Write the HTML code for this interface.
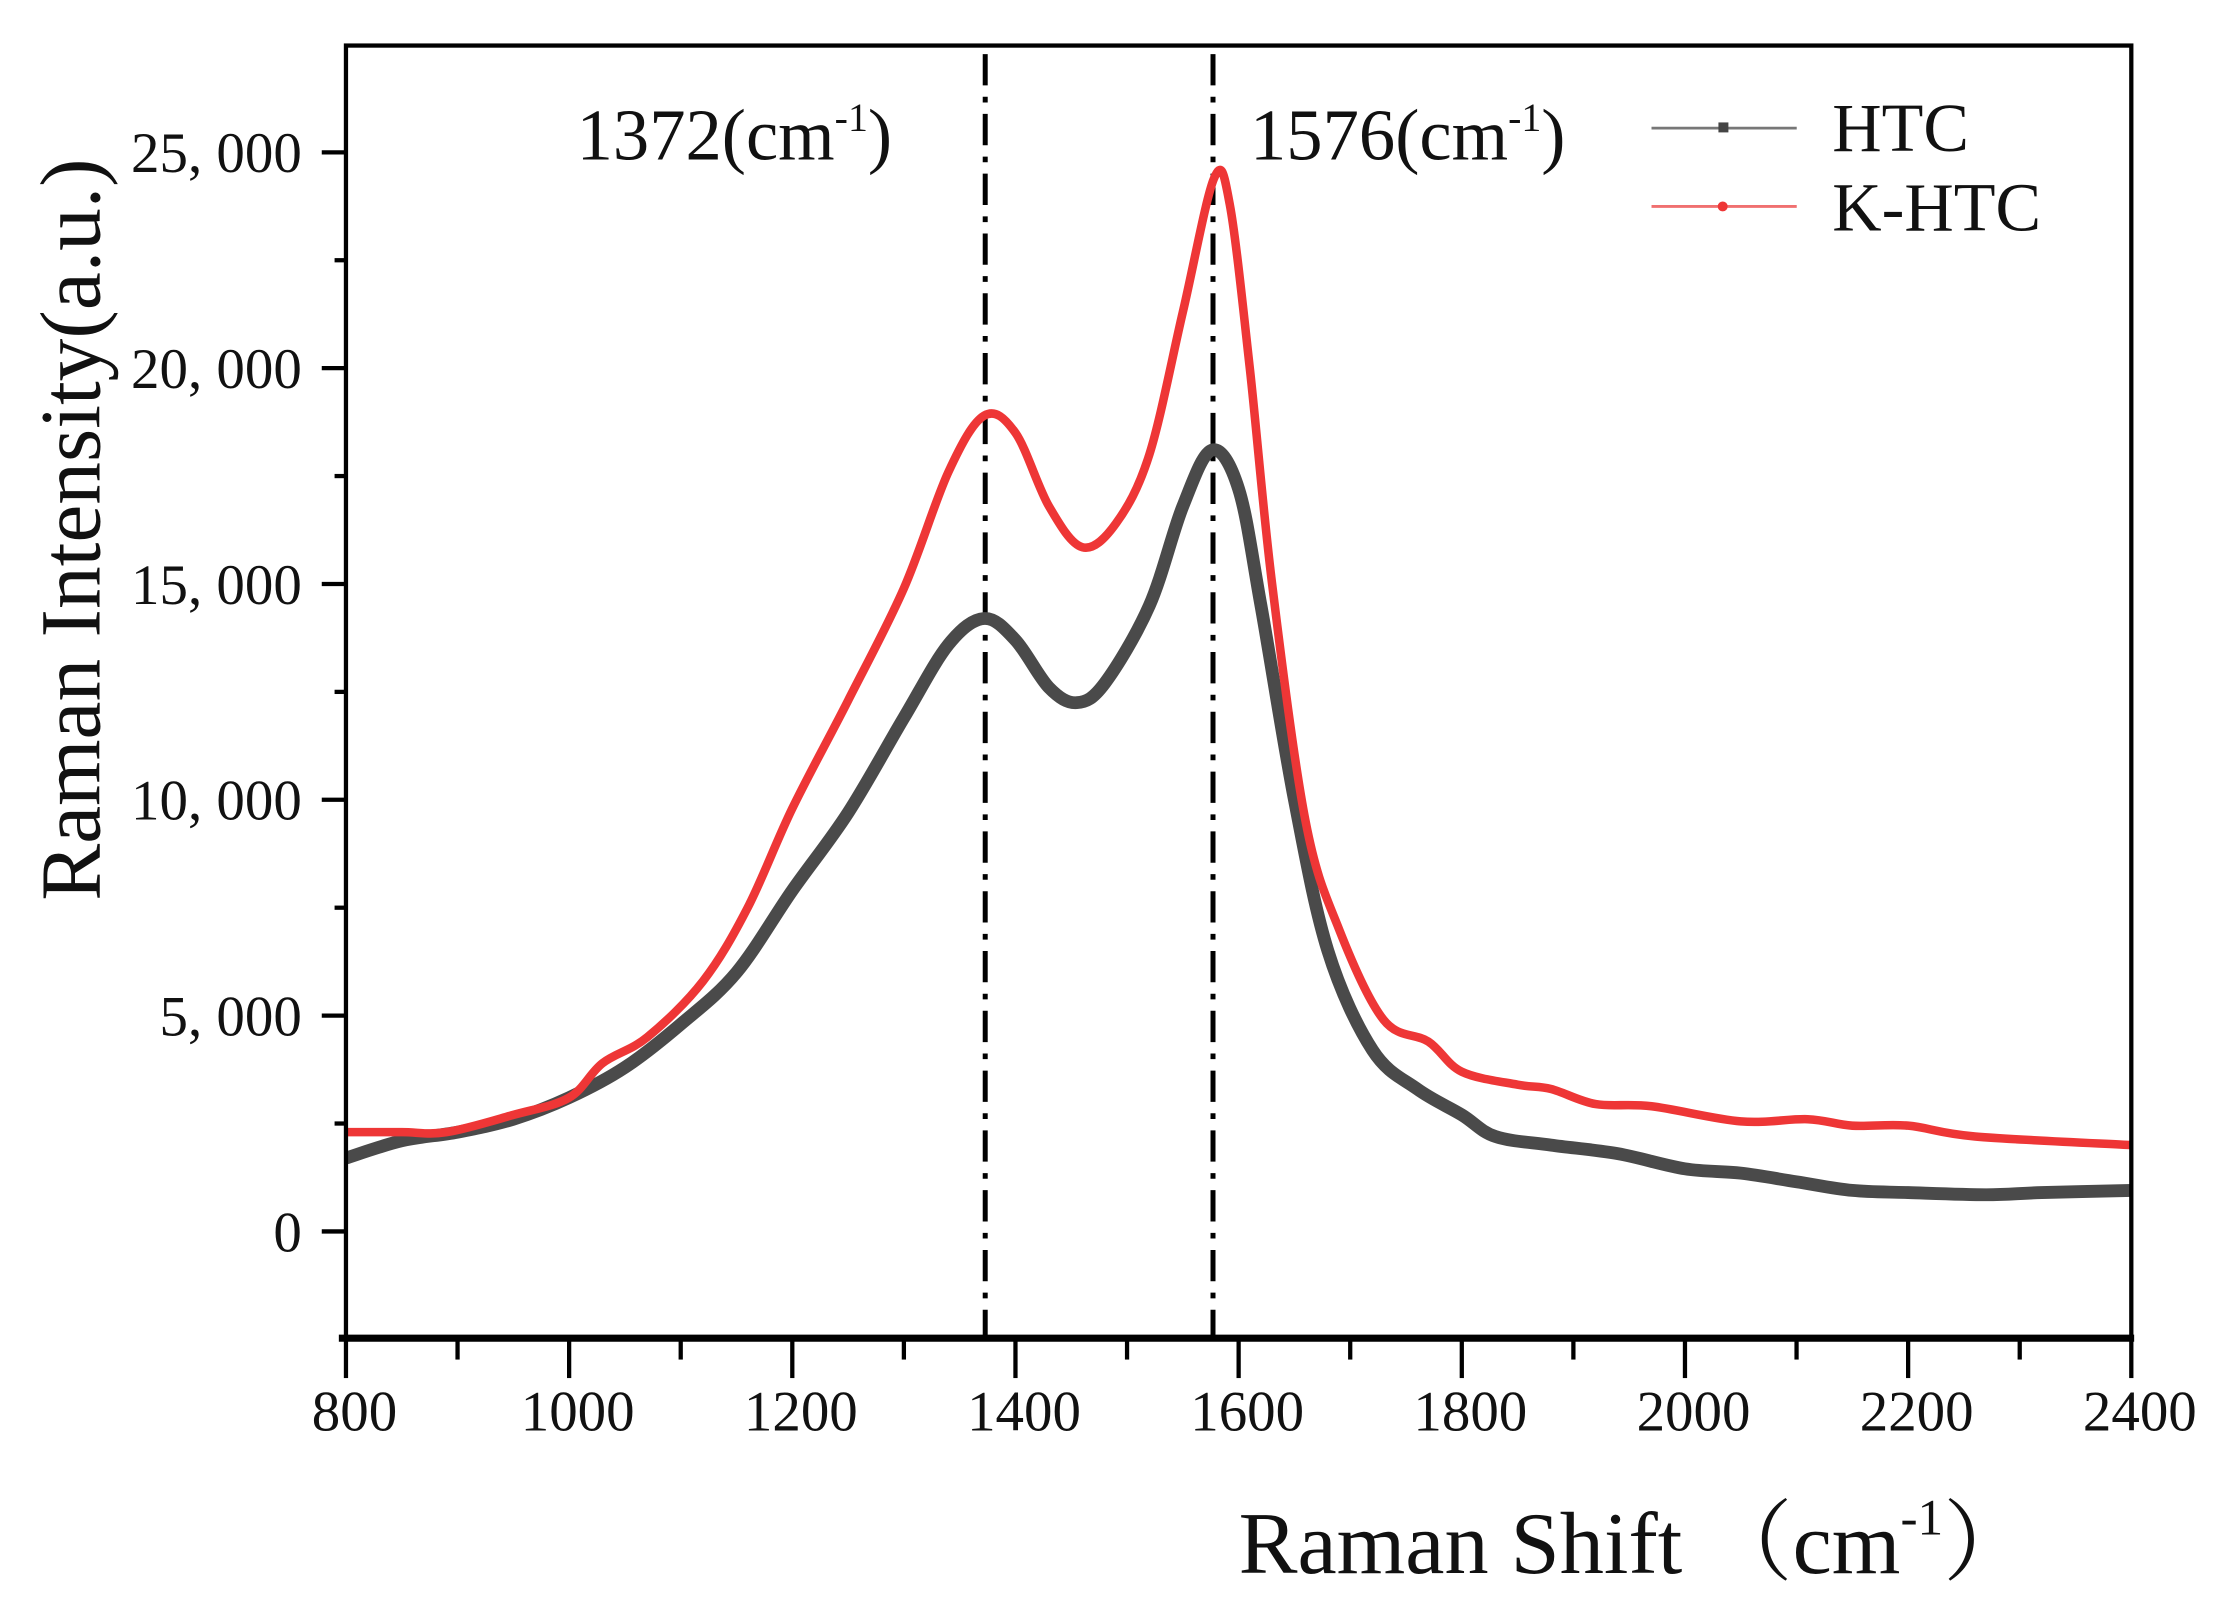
<!DOCTYPE html>
<html><head><meta charset="utf-8"><style>
html,body{margin:0;padding:0;background:#fff;width:2221px;height:1603px;overflow:hidden}
svg{display:block}
text{font-family:"Liberation Serif","Noto Serif CJK SC",serif;fill:#111}
</style></head><body>
<svg id="s" width="2221" height="1603" viewBox="0 0 1560 1126" preserveAspectRatio="none">
<g id="ticks" stroke="#000" stroke-width="3"></g>
<line x1="692" y1="38" x2="692" y2="940" stroke="#000" stroke-width="3.5" stroke-dasharray="22,8,4,8"/>
<line x1="852" y1="38" x2="852" y2="940" stroke="#000" stroke-width="3.5" stroke-dasharray="22,8,4,8"/>
<path id="pg" fill="none" stroke="#4a4a4a" stroke-width="9" stroke-linejoin="round"/>
<path id="pr" fill="none" stroke="#ee3636" stroke-width="6" stroke-linejoin="round"/>
<rect x="243" y="32" width="1254" height="908" fill="none" stroke="#000" stroke-width="3"/>
<line x1="238" y1="940" x2="1499" y2="940" stroke="#000" stroke-width="5"/>
<text x="405" y="112" font-size="51">1372(cm<tspan font-size="28" dy="-20">-1</tspan><tspan dy="20">)</tspan></text>
<text x="878" y="112" font-size="51">1576(cm<tspan font-size="28" dy="-20">-1</tspan><tspan dy="20">)</tspan></text>
<line x1="1160" y1="90" x2="1262" y2="90" stroke="#777" stroke-width="2"/>
<rect x="1207" y="86" width="7" height="7" fill="#444"/>
<line x1="1160" y1="145" x2="1262" y2="145" stroke="#f07070" stroke-width="2"/>
<circle cx="1210" cy="145" r="3.5" fill="#ee3636"/>
<text x="1287" y="106" font-size="48" font-family="Liberation Sans">HTC</text>
<text x="1287" y="162" font-size="48" font-family="Liberation Sans">K-HTC</text>
<g font-size="40" text-anchor="end" id="yl"></g>
<g font-size="40" text-anchor="middle" id="xl"></g>
<text transform="translate(70,372) rotate(-90)" text-anchor="middle" font-size="60">Raman Intensity(a.u.)</text>
<text x="870" y="1105" font-size="62">Raman Shift （cm<tspan font-size="36" dy="-27">-1</tspan><tspan dy="27">）</tspan></text>
</svg>
<script>
var NS="http://www.w3.org/2000/svg";
function X(v){return 243+(v-800)*1254/1600;}
function Y(v){return 865-v*758/25000;}
var t=document.getElementById('ticks'),yl=document.getElementById('yl'),xl=document.getElementById('xl');
function ln(x1,y1,x2,y2){var l=document.createElementNS(NS,'line');l.setAttribute('x1',x1);l.setAttribute('y1',y1);l.setAttribute('x2',x2);l.setAttribute('y2',y2);t.appendChild(l);}
function tx(g,x,y,s){var e=document.createElementNS(NS,'text');e.setAttribute('x',x);e.setAttribute('y',y);e.textContent=s;g.appendChild(e);}
for(var v=800;v<=2400;v+=100){var x=X(v);ln(x,940,x,v%200==0?968:955);if(v%200==0)tx(xl,x+6,1005,String(v));}
for(var v=-2500;v<=27500;v+=2500){var y=Y(v);if(y<32||y>940)continue;ln(243,y,v%5000==0?226:235,y);if(v%5000==0)tx(yl,212,y+14,v==0?'0':(v/1000)+', 000');}
var g=[[800,1700],[850,2100],[900,2300],[950,2600],[1000,3100],[1050,3800],[1100,4800],[1150,6000],[1200,7900],[1250,9700],[1300,11900],[1340,13600],[1372,14200],[1400,13700],[1430,12600],[1455,12250],[1480,12700],[1520,14500],[1550,16800],[1576,18100],[1600,17200],[1620,14500],[1650,10000],[1680,6500],[1720,4200],[1760,3300],[1800,2700],[1830,2200],[1880,2000],[1940,1800],[2000,1450],[2050,1350],[2100,1150],[2150,950],[2200,900],[2270,850],[2320,900],[2400,950]];
var r=[[800,2300],[850,2300],[890,2300],[950,2700],[1000,3100],[1030,3900],[1070,4500],[1120,5800],[1160,7500],[1200,9800],[1250,12300],[1300,14900],[1340,17600],[1372,18900],[1400,18500],[1430,16800],[1460,15850],[1490,16400],[1520,18000],[1550,21300],[1578,24400],[1592,23800],[1610,20000],[1630,15000],[1660,9500],[1690,7000],[1730,4900],[1770,4400],[1800,3700],[1850,3400],[1880,3300],[1920,2950],[1970,2900],[2050,2550],[2110,2600],[2150,2450],[2200,2450],[2260,2200],[2400,2000]];
function path(d){var p=d.map(function(a){return [X(a[0]),Y(a[1])]});var s='M'+p[0][0]+','+p[0][1];
for(var i=0;i<p.length-1;i++){var p0=p[i-1]||p[i],p1=p[i],p2=p[i+1],p3=p[i+2]||p2;
s+=' C'+(p1[0]+(p2[0]-p0[0])/6)+','+(p1[1]+(p2[1]-p0[1])/6)+' '+(p2[0]-(p3[0]-p1[0])/6)+','+(p2[1]-(p3[1]-p1[1])/6)+' '+p2[0]+','+p2[1];}return s;}
document.getElementById('pg').setAttribute('d',path(g));
document.getElementById('pr').setAttribute('d',path(r));
</script>
</body></html>
